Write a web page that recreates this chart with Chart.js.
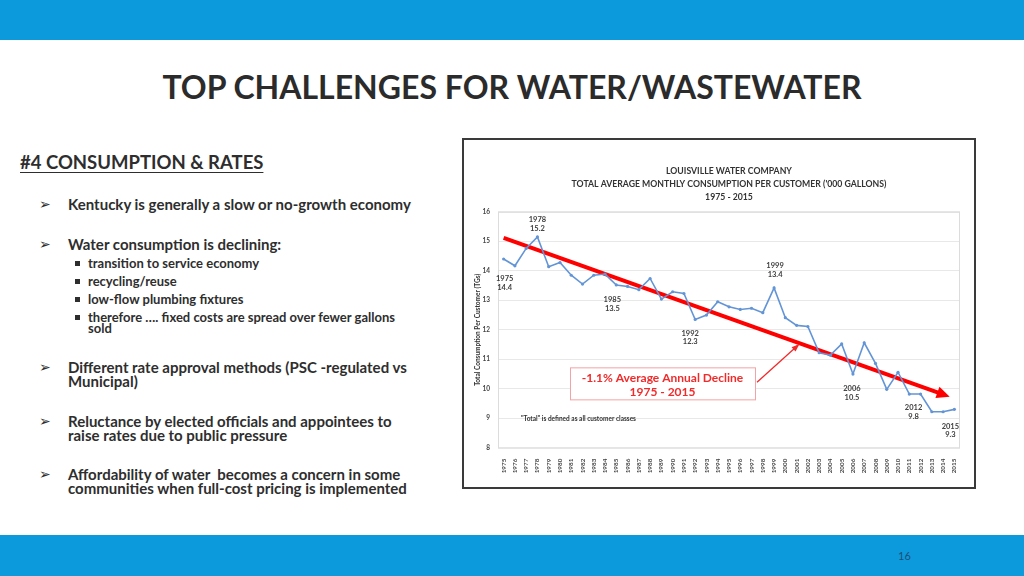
<!DOCTYPE html>
<html>
<head>
<meta charset="utf-8">
<script src="https://cdn.jsdelivr.net/npm/chart.js@4.4.0/dist/chart.umd.min.js"></script>
<style>
body{margin:0;width:1024px;height:576px;overflow:hidden;background:#fff;font-family:Lato,'Open Sans',sans-serif;color:#2e2e2e;position:relative}
.bar{position:absolute;left:0;width:1024px;background:#0d9add}
#top{top:0;height:40px}
#bottom{top:535px;height:41px}
#pg{position:absolute;left:898px;top:549px;font-size:11px;color:#1d4f78}
h1{position:absolute;top:67px;left:0;width:1024px;text-align:center;margin:0;font-size:32px;font-weight:bold;color:#2b2b2b;line-height:40px}
.t{position:absolute;font-weight:bold;white-space:nowrap;color:#2e2e2e}
#head{left:20px;top:151px;font-size:18.5px;line-height:22px;text-decoration:underline;text-underline-offset:3px}
.b1{font-size:15px;line-height:14px;left:68px}
.b2{font-size:13px;line-height:11px;left:88px}
.ar{position:absolute;left:39px;font-size:14px;line-height:14px;font-family:'DejaVu Sans';color:#2e2e2e}
.sq{position:absolute;left:75px;width:4.5px;height:4.5px;background:#2e2e2e}
#chartBox{position:absolute;left:462px;top:138px;width:510px;height:347px;border:2px solid #3a3a3a}
</style>
</head>
<body>
<div class="bar" id="top"></div>
<div class="bar" id="bottom"></div>
<div id="pg">16</div>
<h1>TOP CHALLENGES FOR WATER/WASTEWATER</h1>

<div class="t" id="head">#4 CONSUMPTION &amp; RATES</div>

<div class="ar" style="top:197px">➢</div>
<div class="t b1" style="top:197px">Kentucky is generally a slow or no-growth economy</div>

<div class="ar" style="top:237px">➢</div>
<div class="t b1" style="top:237px">Water consumption is declining:</div>
<div class="sq" style="top:261px"></div>
<div class="t b2" style="top:257.5px">transition to service economy</div>
<div class="sq" style="top:279px"></div>
<div class="t b2" style="top:275.5px">recycling/reuse</div>
<div class="sq" style="top:297px"></div>
<div class="t b2" style="top:293.5px">low-flow plumbing fixtures</div>
<div class="sq" style="top:315px"></div>
<div class="t b2" style="top:311.5px">therefore …. fixed costs are spread over fewer gallons<br>sold</div>

<div class="ar" style="top:360px">➢</div>
<div class="t b1" style="top:360px">Different rate approval methods (PSC -regulated vs<br>Municipal)</div>

<div class="ar" style="top:414px">➢</div>
<div class="t b1" style="top:414px">Reluctance by elected officials and appointees to<br>raise rates due to public pressure</div>

<div class="ar" style="top:467px">➢</div>
<div class="t b1" style="top:467px">Affordability of water&nbsp; becomes a concern in some<br>communities when full-cost pricing is implemented</div>

<div id="chartBox"><canvas id="c" width="510" height="347"></canvas></div>

<script>
// average monthly consumption per customer ('000 gallons)
var years = ['1975','1976','1977','1978','1979','1980','1981','1982','1983','1984',
             '1985','1986','1987','1988','1989','1990','1991','1992','1993','1994',
             '1995','1996','1997','1998','1999','2000','2001','2002','2003','2004',
             '2005','2006','2007','2008','2009','2010','2011','2012','2013','2014','2015'];
var consumption = [14.40, 14.17, 14.76, 15.15, 14.14, 14.28, 13.85, 13.55, 13.85, 13.89,
                   13.52, 13.47, 13.36, 13.74, 13.04, 13.29, 13.23, 12.35, 12.50, 12.95,
                   12.78, 12.69, 12.73, 12.58, 13.42, 12.41, 12.15, 12.11, 11.22, 11.14,
                   11.52, 10.50, 11.56, 10.86, 9.98, 10.56, 9.82, 9.82, 9.22, 9.22, 9.30];
var trendYears = ['1975', '2014'];
var trendValues = [15.12, 9.81];
var calloutYears = ['1975','1978','1985','1992','1999','2006','2012','2015'];
var calloutValues = ['14.4','15.2','13.5','12.3','13.4','10.5','9.8','9.3'];
var yTicks = [8, 9, 10, 11, 12, 13, 14, 15, 16];

var chartFont = 'Lato, "Open Sans", sans-serif';

// label offsets from the point (dx, dy of first line)
var calloutOffsets = {
  '1975': [1, 20], '1978': [0, -17], '1985': [-4, 15], '1992': [-5, 14],
  '1999': [1, -22], '2006': [-1, 15], '2012': [-7, 14], '2015': [-4, 17]
};

var extras = {
  id: 'extras',
  beforeDatasetsDraw: function(chart) {
    var ctx = chart.ctx, a = chart.chartArea;
    ctx.save();
    ctx.strokeStyle = '#dcdcdc';
    ctx.lineWidth = 1;
    ctx.strokeRect(a.left + 0.5, a.top + 0.5, a.right - a.left - 1, a.bottom - a.top);
    ctx.restore();
  },
  afterDatasetsDraw: function(chart) {
    var ctx = chart.ctx, a = chart.chartArea;
    var xs = chart.scales.x, ys = chart.scales.y;
    ctx.save();

    // arrowhead on trend line
    var tm = chart.getDatasetMeta(1).data;
    var p0 = tm[tm.length - 2], p1 = tm[tm.length - 1];
    var dx = p1.x - p0.x, dy = p1.y - p0.y, len = Math.sqrt(dx * dx + dy * dy);
    var ux = dx / len, uy = dy / len;
    var tipX = p1.x + ux * 7, tipY = p1.y + uy * 7;
    var bx = tipX - ux * 13, by = tipY - uy * 13;
    ctx.fillStyle = '#ff0000';
    ctx.beginPath();
    ctx.moveTo(tipX, tipY);
    ctx.lineTo(bx - uy * 6, by + ux * 6);
    ctx.lineTo(bx + uy * 6, by - ux * 6);
    ctx.closePath();
    ctx.fill();

    // year / value callouts
    ctx.fillStyle = '#404040';
    ctx.font = 'bold 7.5px ' + chartFont;
    ctx.textAlign = 'center';
    ctx.textBaseline = 'middle';
    calloutYears.forEach(function(y, i) {
      var idx = years.indexOf(y);
      var px = xs.getPixelForValue(idx), py = ys.getPixelForValue(consumption[idx]);
      var o = calloutOffsets[y];
      ctx.fillText(y, px + o[0], py + o[1]);
      ctx.fillText(calloutValues[i], px + o[0], py + o[1] + 8.5);
    });

    // footnote
    ctx.textAlign = 'left';
    ctx.font = 'bold 6.5px ' + chartFont;
    ctx.fillStyle = '#333';
    ctx.fillText('"Total" is defined as all customer classes', a.left + 23, ys.getPixelForValue(9) + 1);

    // decline box
    var bxl = a.left + 72, bxt = a.top + 155.5, bw = 185, bh = 32;
    ctx.fillStyle = '#fff';
    ctx.fillRect(bxl, bxt, bw, bh);
    ctx.strokeStyle = '#f3a3a3';
    ctx.lineWidth = 1;
    ctx.strokeRect(bxl + 0.5, bxt + 0.5, bw, bh);
    ctx.fillStyle = '#f22a2a';
    ctx.font = 'bold 12px ' + chartFont;
    ctx.textAlign = 'center';
    ctx.fillText('-1.1% Average Annual Decline', bxl + bw / 2, bxt + 11);
    ctx.fillText('1975 - 2015', bxl + bw / 2, bxt + 25);

    // thin pointer arrow
    var sx = bxl + bw + 2, sy = bxt + 15, ex = sx + 41, ey = sy - 37;
    ctx.strokeStyle = '#f22a2a';
    ctx.lineWidth = 1.3;
    ctx.beginPath();
    ctx.moveTo(sx, sy);
    ctx.lineTo(ex, ey);
    ctx.stroke();
    var ax = ex - sx, ay = ey - sy, al = Math.sqrt(ax * ax + ay * ay);
    ax /= al; ay /= al;
    ctx.beginPath();
    ctx.moveTo(ex + ax * 2, ey + ay * 2);
    ctx.lineTo(ex - ax * 6 - ay * 3, ey - ay * 6 + ax * 3);
    ctx.lineTo(ex - ax * 6 + ay * 3, ey - ay * 6 - ax * 3);
    ctx.closePath();
    ctx.fillStyle = '#f22a2a';
    ctx.fill();

    ctx.restore();
  }
};

var ctx = document.getElementById('c').getContext('2d');
var chart = new Chart(ctx, {
  type: 'line',
  data: {
    labels: years,
    datasets: [{
      data: consumption,
      borderColor: '#6395d6',
      backgroundColor: '#6395d6',
      borderWidth: 1.6,
      pointRadius: 1.6,
      pointBorderWidth: 0,
      tension: 0
    }, {
      data: trendYears.map(function(y, i) { return {x: y, y: trendValues[i]}; }),
      borderColor: '#ff0000',
      borderWidth: 4,
      pointRadius: 0,
      tension: 0
    }]
  },
  options: {
    responsive: false,
    animation: false,
    layout: { padding: { left: 0, right: 14, top: 0, bottom: 0 } },
    plugins: {
      legend: { display: false },
      tooltip: { enabled: false },
      title: {
        display: true,
        fullSize: false,
        text: ['LOUISVILLE WATER COMPANY',
               "TOTAL AVERAGE MONTHLY CONSUMPTION PER CUSTOMER ('000 GALLONS)",
               '1975 - 2015'],
        color: '#333',
        font: { family: chartFont, size: 8.7, weight: 'bold', lineHeight: 1.5 },
        padding: { top: 24.5, bottom: 8.2 }
      }
    },
    scales: {
      x: {
        offset: true,
        grid: { display: false },
        border: { display: false },
        ticks: {
          autoSkip: false, minRotation: 90, maxRotation: 90,
          color: '#444', padding: 3,
          font: { family: chartFont, size: 6.3, weight: 'bold' }
        },
        afterFit: function(s) { s.height = 39.3; }
      },
      y: {
        min: 8, max: 16,
        afterBuildTicks: function(s) { s.ticks = yTicks.map(function(v) { return {value: v}; }); },
        grid: { color: '#e8e8e8', drawTicks: false },
        border: { display: false },
        ticks: {
          color: '#444', padding: 8,
          font: { family: chartFont, size: 6.5, weight: 'bold' }
        },
        title: {
          display: true,
          text: 'Total Consumption Per Customer (TGs)',
          color: '#333',
          font: { family: chartFont, size: 6.5, weight: 'bold' },
          padding: { top: 10, bottom: 0 }
        },
        afterFit: function(s) { s.width = 34; }
      }
    }
  },
  plugins: [extras]
});
</script>
</body>
</html>
